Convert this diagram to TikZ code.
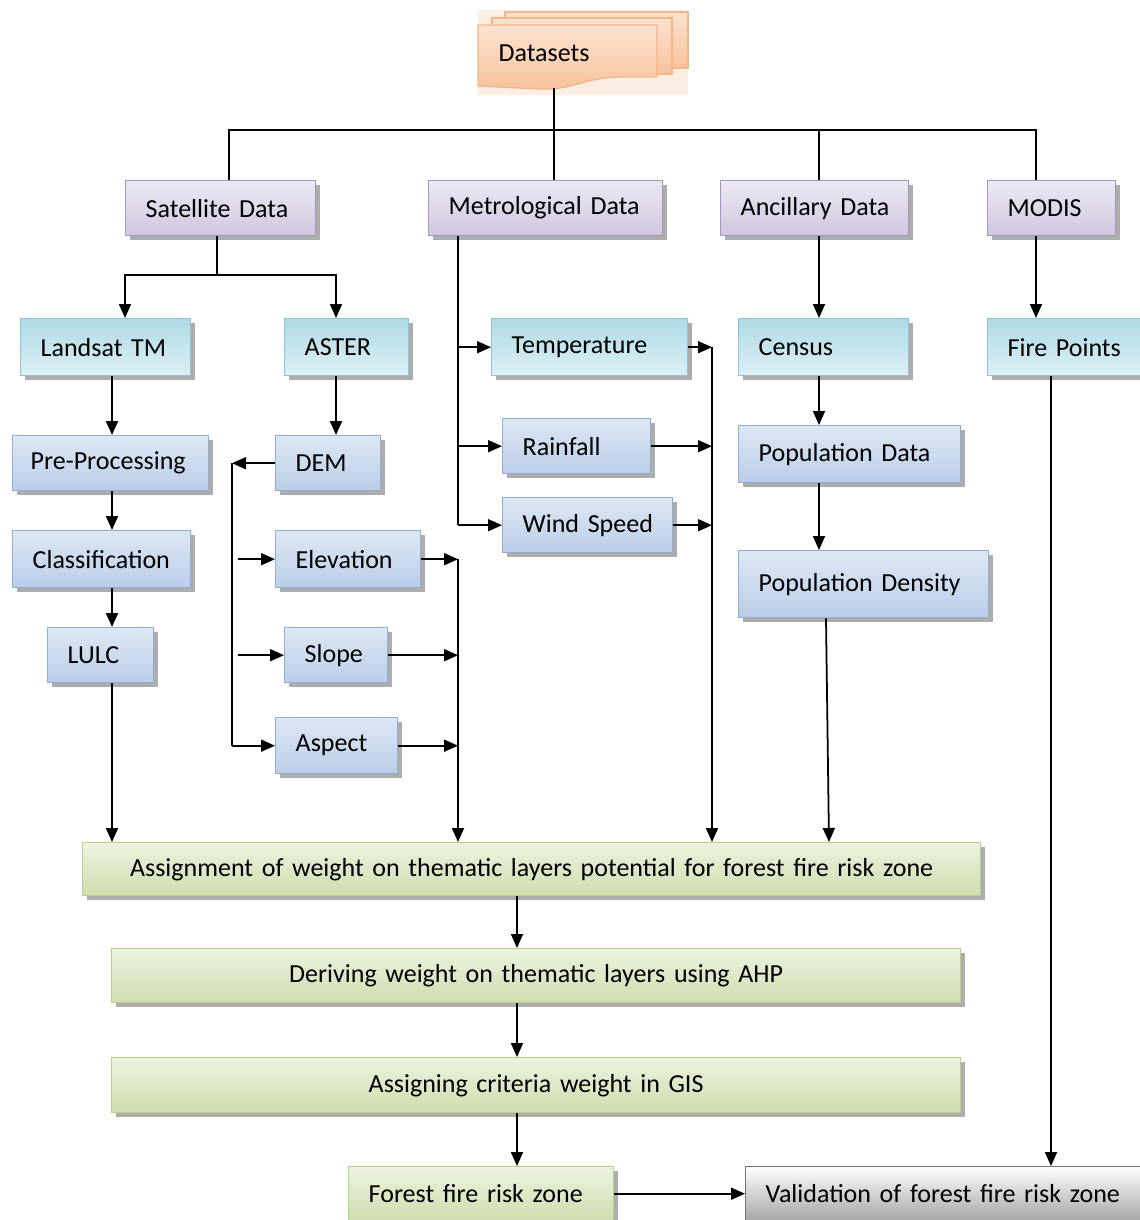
\documentclass[tikz,border=0pt]{standalone}
\usepackage{fontspec}
\setmainfont{Carlito}
\usetikzlibrary{arrows.meta,shadows}
\definecolor{ptop}{HTML}{EDE9F3}
\definecolor{pbot}{HTML}{D0C6DF}
\definecolor{pline}{HTML}{A496C0}
\definecolor{ctop}{HTML}{AFDAE6}
\definecolor{cbot}{HTML}{DDF0F5}
\definecolor{cline}{HTML}{8CC6D6}
\definecolor{btop}{HTML}{DEE8F4}
\definecolor{bbot}{HTML}{BACDE8}
\definecolor{bline}{HTML}{8FADD6}
\definecolor{gtop}{HTML}{EDF3E0}
\definecolor{gbot}{HTML}{CEDDAE}
\definecolor{gline}{HTML}{B9CF8C}
\definecolor{otop}{HTML}{FCE3D1}
\definecolor{obot}{HTML}{F7C29B}
\definecolor{oline}{HTML}{F5B78A}
\definecolor{oglow}{HTML}{FDEEE3}
\newcommand{\fsize}{\fontsize{14.8}{17}\selectfont}
\tikzset{
    box/.style={anchor=north west, draw, line width=0.8pt, inner xsep=0.4cm,
        inner ysep=0pt, minimum height=1.1cm, align=left, font=\fsize,
        drop shadow={shadow xshift=0.08cm, shadow yshift=-0.08cm,
        fill=black!32, opacity=1}},
    pbox/.style={box, draw=pline, top color=ptop, bottom color=pbot},
    cbox/.style={box, draw=cline, top color=ctop, bottom color=cbot, minimum height=1.14cm},
    bbox/.style={box, draw=bline, top color=btop, bottom color=bbot},
    gbox/.style={box, draw=gline, top color=gtop, bottom color=gbot, align=center},
    wbox/.style={box, draw=black!55, top color=white, bottom color=black!35},
    arr/.style={-{Triangle[length=0.28cm, width=0.24cm]}}
}

\begin{document}
\begin{tikzpicture}[x=0.02cm, y=-0.02cm, line width=1pt]
	\useasboundingbox (0,0) rectangle (1139,1220);

	% datasets (stacked sheets)
	\fill[oglow] (478,10) rectangle (688,95);
	\shade[top color=otop, bottom color=obot, draw=oline, line width=0.8pt] (505,12) rectangle (688,68);
	\shade[top color=otop, bottom color=obot, draw=oline, line width=0.8pt] (492,18) rectangle (672,74);
	\shade[top color=otop, bottom color=obot, draw=oline, line width=0.8pt] (478,25) -- (657,25) -- (657,77)
		-- (620,77) .. controls (585,77) and (575,90) .. (540,89) -- (478,86) -- cycle;
	\node (ds) [font=\fsize, inner sep=0pt] at (544,53) {Datasets};
	\coordinate (dsb) at (554,88);

	\node (sat) [pbox, text width=3.0cm] at (125,180) {Satellite Data};
	\node (met) [pbox, text width=3.88cm] at (428,180) {Metrological Data};
	\node (anc) [pbox, text width=2.96cm] at (720,180) {Ancillary~Data};
	\node (modis) [pbox, text width=1.76cm] at (987,180) {MODIS};

	\node (land) [cbox, text width=2.6cm] at (20,318) {Landsat TM};
	\node (aster) [cbox, text width=1.68cm] at (284,318) {ASTER};
	\node (temp) [cbox, text width=3.12cm] at (491,318) {Temperature};
	\node (census) [cbox, text width=2.6cm] at (738,318) {Census};
	\node (fire) [cbox, text width=2.4cm] at (987,318) {Fire Points};

	\node (pre) [bbox, text width=3.2cm, inner xsep=0.36cm] at (12,435) {Pre-Processing};
	\node (dem) [bbox, text width=1.3cm] at (275,435) {DEM};
	\node (rain) [bbox, text width=2.16cm] at (502,418) {Rainfall};
	\node (popd) [bbox, text width=3.64cm, minimum height=1.14cm] at (738,425) {Population Data};
	\node (class) [bbox, text width=2.76cm, minimum height=1.14cm] at (12,530) {Classification};
	\node (elev) [bbox, text width=2.1cm, minimum height=1.14cm] at (275,530) {Elevation};
	\node (wind) [bbox, text width=2.6cm] at (502,497) {Wind~Speed};
	\node (popden) [bbox, text width=4.2cm, minimum height=1.34cm] at (738,550) {Population Density};
	\node (lulc) [bbox, text width=1.32cm] at (47,627) {LULC};
	\node (slope) [bbox, text width=1.26cm] at (284,627) {Slope};
	\node (aspect) [bbox, text width=1.64cm, minimum height=1.12cm] at (275,717) {Aspect};

	\node (assign) [gbox, text width=17.16cm, minimum height=1.06cm] at (82,842)
		{Assignment of weight on thematic layers potential for forest fire risk zone};
	\node (derive) [gbox, text width=16.18cm, minimum height=1.08cm] at (111,948)
		{Deriving weight on thematic layers using AHP};
	\node (crit) [gbox, text width=16.18cm] at (111,1057) {Assigning criteria weight in GIS};
	\node (zone) [gbox, align=left, text width=4.5cm, minimum height=1.08cm] at (348,1166) {Forest fire risk zone};
	\node (valid) [wbox, text width=7.2cm, minimum height=1.08cm] at (745,1166) {Validation of forest fire risk zone};

	% helper points
	\coordinate (j1) at (229,130); \coordinate (j3) at (819,130); \coordinate (j4) at (1036,130);
	\coordinate (s0) at (125,275); \coordinate (s1) at (217,275); \coordinate (s2) at (336,275);
	\coordinate (xl) at (112,0); \coordinate (dv) at (232,0); \coordinate (dv2) at (238,0);
	\coordinate (tv) at (458,0); \coordinate (rv) at (712,0); \coordinate (xz) at (517,0);
	\coordinate (xf) at (1051,0); \coordinate (xd1) at (826,0); \coordinate (xd2) at (829,0);

	% top level
	\draw (dsb) -- (dsb |- met.north);
	\draw (sat.north -| j1) |- (j4) -- (modis.north -| j4);
	\draw (j3) -- (anc.north -| j3);

	% satellite branch
	\draw (sat.south -| s1) -- (s1);
	\draw[arr] (s1) -- (s0) -- (land.north -| s0);
	\draw[arr] (s1) -- (s2) -- (aster.north -| s2);
	\draw[arr] (land.south -| xl) -- (pre.north -| xl);
	\draw[arr] (pre.south -| xl) -- (class.north -| xl);
	\draw[arr] (class.south -| xl) -- (lulc.north -| xl);
	\draw[arr] (lulc.south -| xl) -- (assign.north -| xl);

	% terrain branch
	\draw[arr] (aster.south -| s2) -- (dem.north -| s2);
	\draw[arr] (dem.west) -- (dem.west -| dv);
	\draw (dem.west -| dv) -- (aspect.west -| dv);
	\draw[arr] (elev.west -| dv2) -- (elev.west);
	\draw[arr] (slope.west -| dv2) -- (slope.west);
	\draw[arr] (aspect.west -| dv) -- (aspect.west);
	\draw[arr] (elev.east) -- (elev.east -| tv);
	\draw[arr] (slope.east) -- (slope.east -| tv);
	\draw[arr] (aspect.east) -- (aspect.east -| tv);
	\draw[arr] (elev.east -| tv) -- (assign.north -| tv);

	% weather branch
	\draw (met.south -| tv) -- (wind.west -| tv);
	\draw[arr] (temp.west -| tv) -- (temp.west);
	\draw[arr] (rain.west -| tv) -- (rain.west);
	\draw[arr] (wind.west -| tv) -- (wind.west);
	\draw[arr] (temp.east) -- (temp.east -| rv);
	\draw[arr] (rain.east) -- (rain.east -| rv);
	\draw[arr] (wind.east) -- (wind.east -| rv);
	\draw[arr] (temp.east -| rv) -- (assign.north -| rv);

	% ancillary branch
	\draw[arr] (anc.south -| j3) -- (census.north -| j3);
	\draw[arr] (census.south -| j3) -- (popd.north -| j3);
	\draw[arr] (popd.south -| j3) -- (popden.north -| j3);
	\draw[arr] (popden.south -| xd1) -- (assign.north -| xd2);

	% modis branch
	\draw[arr] (modis.south -| j4) -- (fire.north -| j4);
	\draw[arr] (fire.south -| xf) -- (valid.north -| xf);

	% weighting chain
	\draw[arr] (assign.south -| xz) -- (derive.north -| xz);
	\draw[arr] (derive.south -| xz) -- (crit.north -| xz);
	\draw[arr] (crit.south -| xz) -- (zone.north -| xz);
	\draw[arr] (zone.east) -- (valid.west);
\end{tikzpicture}
\end{document}
